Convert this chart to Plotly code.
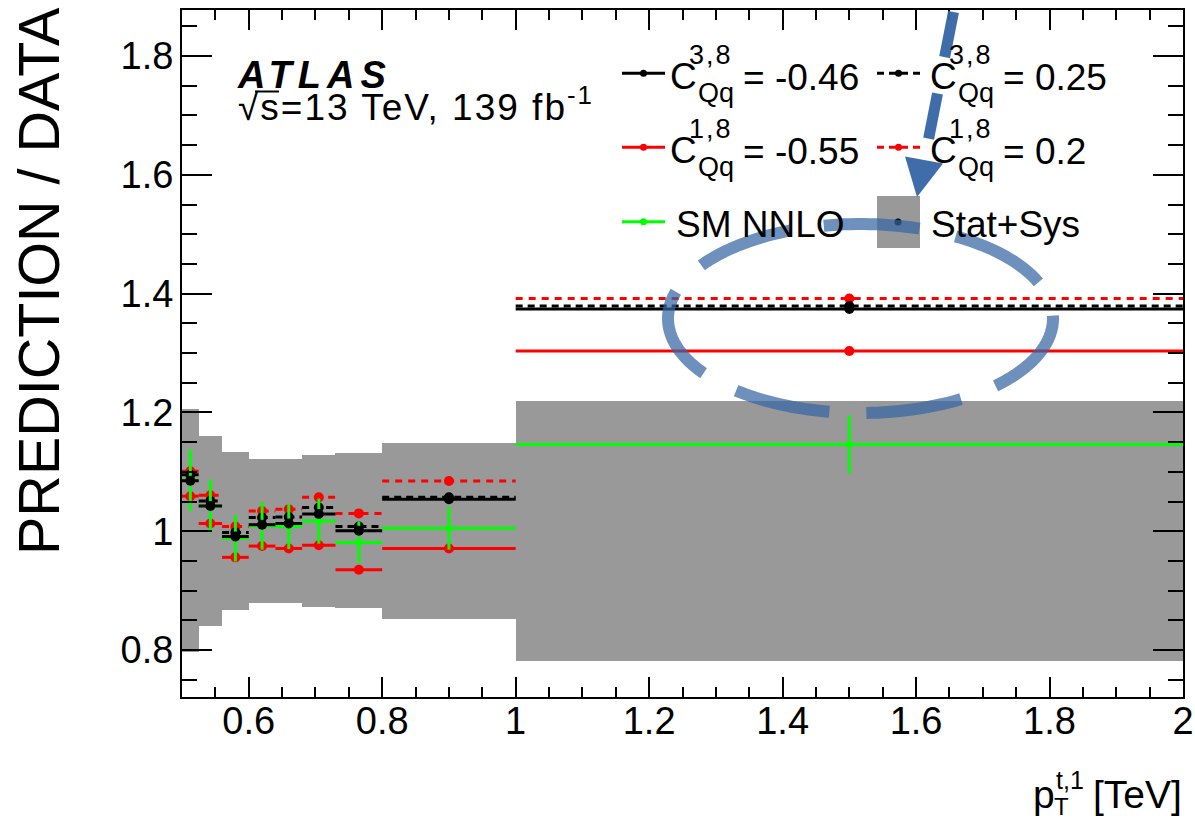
import math
import plotly.graph_objects as go

# ---------------- data ----------------
bin_edges = [0.5, 0.525, 0.56, 0.6, 0.64, 0.68, 0.73, 0.8, 1.0, 2.0]
band_upper = [1.205, 1.160, 1.134, 1.122, 1.121, 1.128, 1.132, 1.149, 1.220]
band_lower = [0.797, 0.841, 0.868, 0.879, 0.879, 0.872, 0.870, 0.852, 0.7815]
c38_m046 = [1.085, 1.0425, 0.991, 1.011, 1.013, 1.029, 1.001, 1.054, 1.374]
c38_p025 = [1.095, 1.051, 0.998, 1.023, 1.024, 1.040, 1.008, 1.057, 1.379]
c18_m055 = [1.059, 1.013, 0.956, 0.975, 0.971, 0.9765, 0.935, 0.971, 1.3035]
c18_p020 = [1.101, 1.0605, 1.008, 1.034, 1.037, 1.057, 1.030, 1.0846, 1.3917]
sm_nnlo = [1.086, 1.042, 0.988, 1.009, 1.008, 1.017, 0.981, 1.005, 1.146]
sm_nnlo_err = [0.052, 0.045, 0.039, 0.040, 0.038, 0.038, 0.035, 0.036, 0.049]

x_tick_vals = [0.6, 0.8, 1.0, 1.2, 1.4, 1.6, 1.8, 2.0]
x_tick_text = ["0.6", "0.8", "1", "1.2", "1.4", "1.6", "1.8", "2"]
y_tick_vals = [0.8, 1.0, 1.2, 1.4, 1.6, 1.8]
y_tick_text = ["0.8", "1", "1.2", "1.4", "1.6", "1.8"]

centers = [(a + b) / 2 for a, b in zip(bin_edges[:-1], bin_edges[1:])]
widths = [b - a for a, b in zip(bin_edges[:-1], bin_edges[1:])]

FONT = "Liberation Sans, Arial, Helvetica, sans-serif"
RED, GREEN, BLACK, GRAY = "#ff0000", "#00ff00", "#000000", "#999999"

# plot-area geometry (pixels)
L, R, T, B = 182, 1183, 10, 697
W, H = 1195, 820
XR = [0.5, 2.0]
YR = [0.7209, 1.8775]


def PX(px):
    return (px - L) / (R - L)


def PY(py):
    return (B - py) / (B - T)


def steps(vals):
    xs, ys = [], []
    for a, b, v in zip(bin_edges[:-1], bin_edges[1:], vals):
        xs += [a, b, None]
        ys += [v, v, None]
    return xs, ys


fig = go.Figure()

# uncertainty band
fig.add_trace(go.Bar(
    x=centers, y=[u - d for u, d in zip(band_upper, band_lower)], base=band_lower,
    width=widths, marker=dict(color=GRAY, line=dict(width=0)), showlegend=False,
    hoverinfo="skip"))


def add_series(vals, color, dash, msize):
    xs, ys = steps(vals)
    fig.add_trace(go.Scatter(x=xs, y=ys, mode="lines",
                             line=dict(color=color, width=3, dash=dash),
                             showlegend=False, hoverinfo="skip"))
    fig.add_trace(go.Scatter(x=centers, y=vals, mode="markers",
                             marker=dict(color=color, size=msize, line=dict(width=0)),
                             showlegend=False))


add_series(c18_p020, RED, "7px,6px", 10)
add_series(c38_p025, BLACK, "7px,5px", 10)
add_series(c18_m055, RED, "solid", 10)
# SM NNLO with vertical error bars
xs, ys = steps(sm_nnlo)
fig.add_trace(go.Scatter(x=xs, y=ys, mode="lines", line=dict(color=GREEN, width=3),
                         showlegend=False, hoverinfo="skip"))
fig.add_trace(go.Scatter(x=centers, y=sm_nnlo, mode="markers",
                         marker=dict(color=GREEN, size=7, line=dict(width=0)),
                         error_y=dict(type="data", array=sm_nnlo_err, color=GREEN,
                                      thickness=3, width=0),
                         showlegend=False))
add_series(c38_m046, BLACK, "solid", 10)

shapes = []
annotations = []


def ann(text, px, py, size, xanchor="left", yanchor="middle", **kw):
    annotations.append(dict(text=text, x=PX(px), y=PY(py), xref="paper", yref="paper",
                            xanchor=xanchor, yanchor=yanchor, showarrow=False,
                            font=dict(family=FONT, size=size, color="black"), **kw))


# ---------------- legend (drawn manually) ----------------
rows = [73.3, 147.3, 221.7]
col_line = [(622, 665), (877, 920)]


def leg_line(x0, x1, py, color, dash):
    shapes.append(dict(type="line", xref="paper", yref="paper", x0=PX(x0), x1=PX(x1),
                       y0=PY(py), y1=PY(py), line=dict(color=color, width=3, dash=dash)))
    xm = (x0 + x1) / 2
    shapes.append(dict(type="circle", xref="paper", yref="paper", xsizemode="pixel",
                       ysizemode="pixel", xanchor=PX(xm), yanchor=PY(py),
                       x0=-3.5, x1=3.5, y0=-3.5, y1=3.5,
                       fillcolor=color, line=dict(color=color, width=0)))


leg_line(*col_line[0], rows[0], BLACK, "solid")
leg_line(*col_line[1], rows[0], BLACK, "7px,5px")
leg_line(*col_line[0], rows[1], RED, "solid")
leg_line(*col_line[1], rows[1], RED, "7px,5px")
leg_line(*col_line[0], rows[2], GREEN, "solid")
# Stat+Sys box
shapes.append(dict(type="rect", xref="paper", yref="paper", x0=PX(877), x1=PX(920),
                   y0=PY(248), y1=PY(196), fillcolor=GRAY, line=dict(width=0)))
shapes.append(dict(type="circle", xref="paper", yref="paper", xsizemode="pixel",
                   ysizemode="pixel", xanchor=PX(898), yanchor=PY(222),
                   x0=-3.5, x1=3.5, y0=-3.5, y1=3.5, fillcolor=BLACK, line=dict(width=0)))

leg_coef = [("3,8", "= -0.46", "3,8", "= 0.25"), ("1,8", "= -0.55", "1,8", "= 0.2")]
for r, (s1, t1, s2, t2) in enumerate(leg_coef):
    yc = rows[r]
    for cx, sup, txt in ((668, s1, t1), (928, s2, t2)):
        ann("C", cx, yc + 3.5, 37)
        ann(f'<span style="letter-spacing:2px">{sup}</span>', cx + 19, yc - 18, 27)
        ann("Qq", cx + 28, yc + 20, 27)
        ann(txt, cx + 73, yc + 4, 37)
ann("SM NNLO", 674, 224, 37)
ann("Stat+Sys", 929, 224, 37)

# ---------------- ATLAS label (two lines in one text block) ----------------
ann('<span style="font-size:38px;letter-spacing:6px"><b><i>ATLAS</i></b></span><br>'
    '<span style="font-size:37px;letter-spacing:2px">√s=13 TeV, 139 fb<sup>-1</sup></span>',
    235, 91, 24.6, align="left")
shapes.append(dict(type="line", xref="paper", yref="paper", x0=PX(255), x1=PX(279),
                   y0=PY(91.5), y1=PY(91.5), line=dict(color="black", width=2)))

# ---------------- axis titles ----------------
ann("PREDICTION / DATA", 39, 281, 57.5, xanchor="center", textangle=-90)
ann("p", 1031, 794, 39)
ann("t,1", 1054, 780, 25)
ann("T", 1052, 806, 24)
ann("[TeV]", 1184, 794, 39, xanchor="right")

# ---------------- blue hand-drawn highlight ----------------
BLUE = "rgba(52,101,164,0.95)"
shapes.append(dict(type="line", xref="paper", yref="paper", x0=PX(953.5), y0=PY(12),
                   x1=PX(926), y1=PY(152), line=dict(color=BLUE, width=11, dash="46px,37px"),
                   layer="above"))
shapes.append(dict(type="path", xref="paper", yref="paper",
                   path=f"M {PX(905):.5f},{PY(156.5):.5f} L {PX(943):.5f},{PY(163.5):.5f} "
                        f"L {PX(917):.5f},{PY(197):.5f} Z",
                   fillcolor=BLUE, line=dict(width=0), layer="above"))
# dashed ellipse drawn as a polyline, starting at upper left, running clockwise
ecx, ecy, erx, ery = 860.5, 318.5, 192.5, 94.5
pts = []
n = 180
t0 = math.radians(101)
for k in range(n + 1):
    t = t0 - 2 * math.pi * k / n
    pts.append((ecx + erx * math.cos(t), ecy - ery * math.sin(t)))
epath = "M " + " L ".join(f"{PX(a):.5f},{PY(b):.5f}" for a, b in pts)
shapes.append(dict(type="path", xref="paper", yref="paper", path=epath,
                   line=dict(color="rgba(52,101,164,0.72)", width=12, dash="96px,37px"),
                   layer="above"))

axis_common = dict(showline=True, linecolor="black", linewidth=2, mirror="ticks",
                   showgrid=False, zeroline=False, ticks="inside", tickwidth=2,
                   tickcolor="black", automargin=False,
                   tickfont=dict(family=FONT, size=38, color="black"))

fig.update_layout(
    template="none",
    width=W, height=H, autosize=False,
    margin=dict(l=L, r=W - R, t=T, b=H - B, pad=0),
    paper_bgcolor="white", plot_bgcolor="white",
    showlegend=False, bargap=0,
    xaxis=dict(range=XR, tickvals=x_tick_vals, ticktext=x_tick_text,
               ticklen=20, ticklabelstandoff=-11,
               minor=dict(dtick=0.05, tick0=0, ticklen=10, ticks="inside", tickwidth=2,
                          tickcolor="black"),
               **axis_common),
    yaxis=dict(range=YR, tickvals=y_tick_vals, ticktext=y_tick_text,
               ticklen=30, ticklabelstandoff=-1,
               minor=dict(dtick=0.05, tick0=0, ticklen=15, ticks="inside", tickwidth=2,
                          tickcolor="black"),
               **axis_common),
    shapes=shapes, annotations=annotations,
)

fig.write_html("out.html", config={"displayModeBar": False, "responsive": False},
               post_script="document.body.style.margin='0';document.body.style.padding='0';"
                           "document.body.style.overflow='hidden';")
